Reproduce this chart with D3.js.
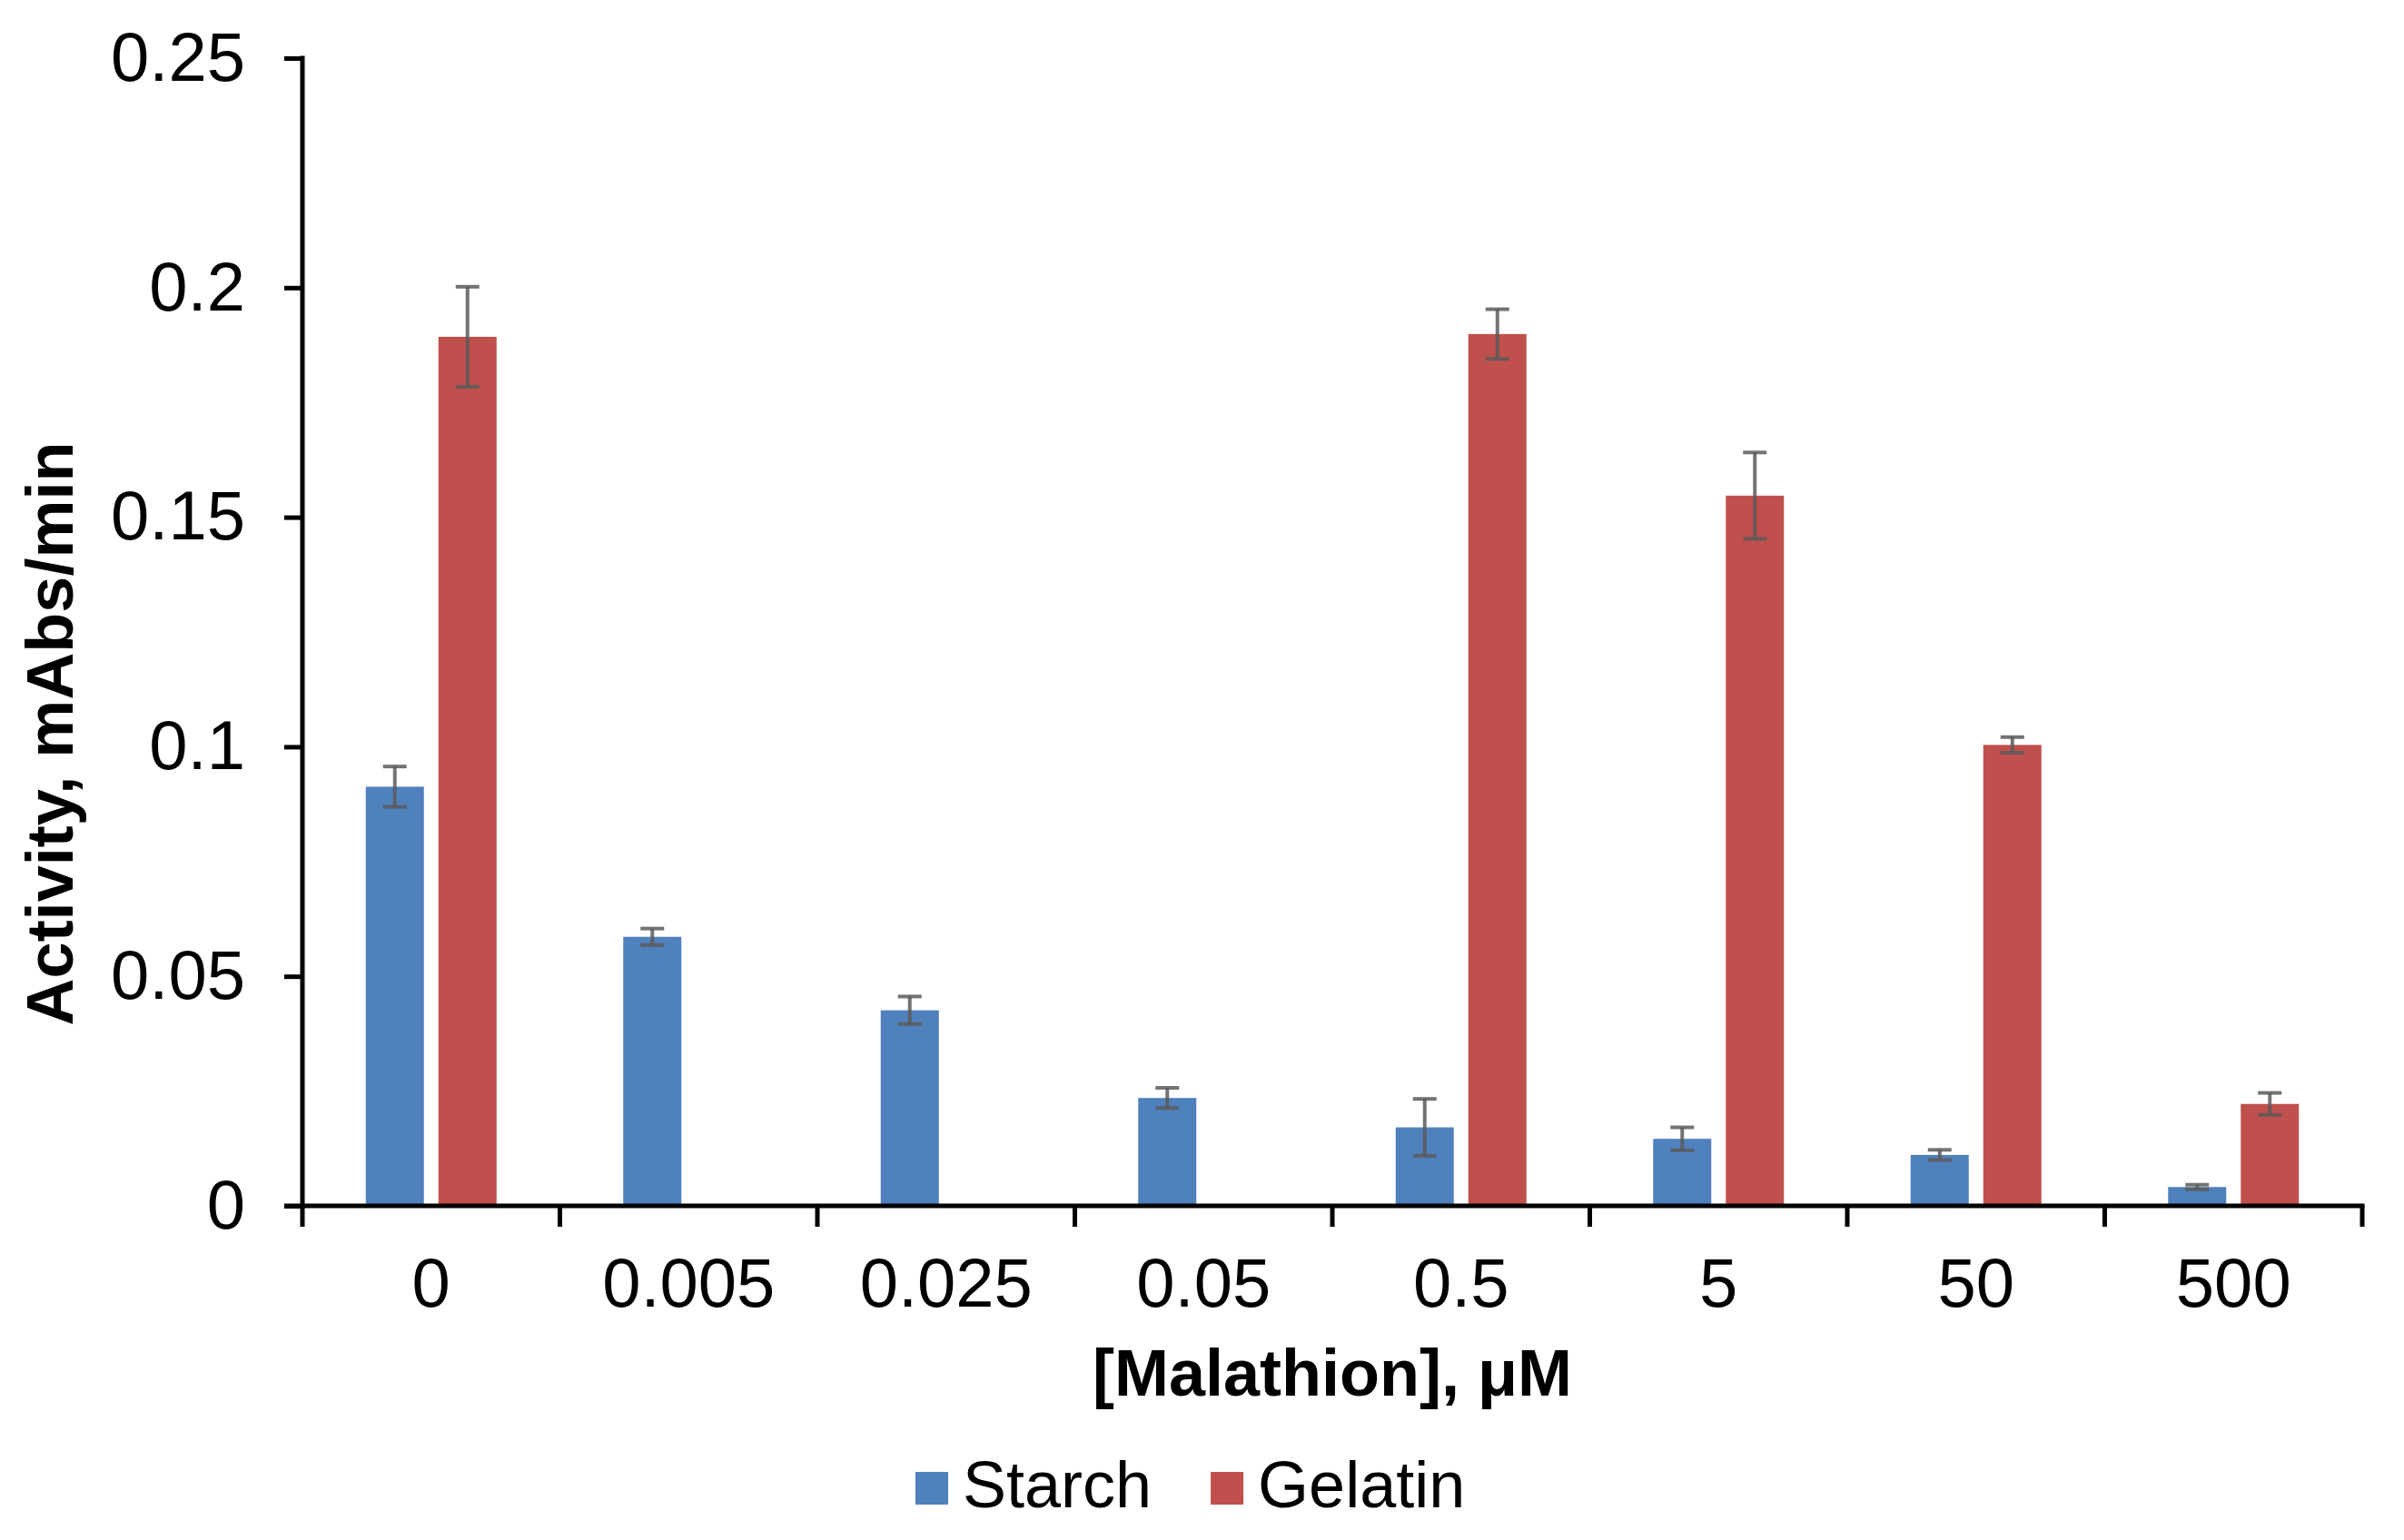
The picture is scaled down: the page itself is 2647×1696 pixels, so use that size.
<!DOCTYPE html>
<html>
<head>
<meta charset="utf-8">
<script src="https://cdn.jsdelivr.net/npm/d3@7"></script>
<style>
  body { margin: 0; background: #fff; }
  text { font-family: "Liberation Sans", Arial, sans-serif; fill: #000; }
</style>
</head>
<body>
<div id="graphic"></div>
<script>
// [Malathion] concentrations, uM
var categories = ["0", "0.005", "0.025", "0.05", "0.5", "5", "50", "500"];
var seriesNames = ["Starch", "Gelatin"];
var starch = [0.0913, 0.0586, 0.0426, 0.0235, 0.0171, 0.0146, 0.0111, 0.0041];
var starchErr = [0.0044, 0.0018, 0.0030, 0.0022, 0.0062, 0.0025, 0.0011, 0.0005];
var gelatin = [0.1893, null, null, null, 0.1899, 0.1547, 0.1004, 0.0222];
var gelatinErr = [0.0109, null, null, null, 0.0054, 0.0094, 0.0017, 0.0024];
var yTicks = [0, 0.05, 0.1, 0.15, 0.2, 0.25];
var yTickLabels = ["0", "0.05", "0.1", "0.15", "0.2", "0.25"];
var colors = ["#4F81BD", "#C0504D"];

var graphic = {};

graphic.create = function() {
  var width = 2647, height = 1696;
  var svg = d3.select("#graphic").append("svg").attr("width", width).attr("height", height);

  var x0 = d3.scaleBand().domain(categories).range([333, 2601]);
  var x1 = d3.scaleBand().domain(seriesNames).range([0, 144]).paddingInner(0.2);
  var y = d3.scaleLinear().domain([0, 0.25]).range([1328, 64]);
  var color = d3.scaleOrdinal().domain(seriesNames).range(colors);
  var off = (x0.bandwidth() - 144) / 2;

  var rows = [];
  categories.forEach(function(c, i) {
    rows.push({cat: c, name: "Starch", v: starch[i], e: starchErr[i]});
    if (gelatin[i] != null) rows.push({cat: c, name: "Gelatin", v: gelatin[i], e: gelatinErr[i]});
  });

  // bars
  svg.append("g").selectAll("rect").data(rows).enter().append("rect")
    .attr("x", function(d) { return x0(d.cat) + off + x1(d.name); })
    .attr("y", function(d) { return y(d.v); })
    .attr("width", x1.bandwidth())
    .attr("height", function(d) { return y(0) - y(d.v); })
    .attr("fill", function(d) { return color(d.name); });

  // error bars
  var eb = svg.append("g").attr("stroke", "#5a5a5a").attr("stroke-opacity", 0.85).attr("stroke-width", 4);
  rows.forEach(function(d) {
    var cx = x0(d.cat) + off + x1(d.name) + x1.bandwidth() / 2;
    eb.append("line").attr("x1", cx).attr("x2", cx).attr("y1", y(d.v + d.e)).attr("y2", y(d.v - d.e));
    eb.append("line").attr("x1", cx - 13).attr("x2", cx + 13).attr("y1", y(d.v + d.e)).attr("y2", y(d.v + d.e));
    eb.append("line").attr("x1", cx - 13).attr("x2", cx + 13).attr("y1", y(d.v - d.e)).attr("y2", y(d.v - d.e));
  });

  // y axis
  var yAxis = d3.axisLeft(y).tickValues(yTicks).tickSize(20).tickPadding(43)
    .tickFormat(function(d, i) { return yTickLabels[i]; });
  var gy = svg.append("g").attr("transform", "translate(333,0)").call(yAxis);
  gy.select(".domain").remove();
  gy.selectAll(".tick line").attr("stroke", "#000").attr("stroke-width", 5);
  gy.selectAll(".tick text").attr("font-size", 76).attr("font-family", "Liberation Sans, Arial, sans-serif").attr("fill", "#000");
  svg.append("line").attr("x1", 333).attr("x2", 333).attr("y1", y(0.25) - 2.5).attr("y2", y(0))
    .attr("stroke", "#000").attr("stroke-width", 5);

  // x axis: labels at centres, ticks on band edges
  var xAxis = d3.axisBottom(x0).tickSize(0).tickPadding(57);
  var gx = svg.append("g").attr("transform", "translate(0," + y(0) + ")").call(xAxis);
  gx.select(".domain").remove();
  gx.selectAll(".tick text").attr("font-size", 76).attr("font-family", "Liberation Sans, Arial, sans-serif").attr("fill", "#000");
  var edges = categories.map(function(c) { return x0(c); }).concat([x0.range()[1]]);
  svg.append("g").selectAll("line").data(edges).enter().append("line")
    .attr("x1", function(d) { return d; }).attr("x2", function(d) { return d; })
    .attr("y1", y(0)).attr("y2", y(0) + 23)
    .attr("stroke", "#000").attr("stroke-width", 5);
  svg.append("line").attr("x1", 313).attr("x2", x0.range()[1] + 2.5).attr("y1", y(0)).attr("y2", y(0))
    .attr("stroke", "#000").attr("stroke-width", 5);

  // axis titles
  svg.append("text").attr("x", 1467).attr("y", 1537).attr("text-anchor", "middle")
    .attr("font-size", 72).attr("font-weight", "bold").text("[Malathion], \u03bcM");
  svg.append("text").attr("transform", "translate(80,808) rotate(-90)").attr("text-anchor", "middle")
    .attr("font-size", 72).attr("font-weight", "bold").text("Activity, mAbs/min");

  // legend
  var lx = 1008;
  seriesNames.forEach(function(n) {
    svg.append("rect").attr("x", lx).attr("y", 1621).attr("width", 36).attr("height", 36).attr("fill", color(n));
    var t = svg.append("text").attr("x", lx + 52).attr("y", 1660).attr("font-size", 72).text(n);
    lx = lx + 52 + t.node().getComputedTextLength() + 65;
  });
};

graphic.create();
</script>
</body>
</html>
